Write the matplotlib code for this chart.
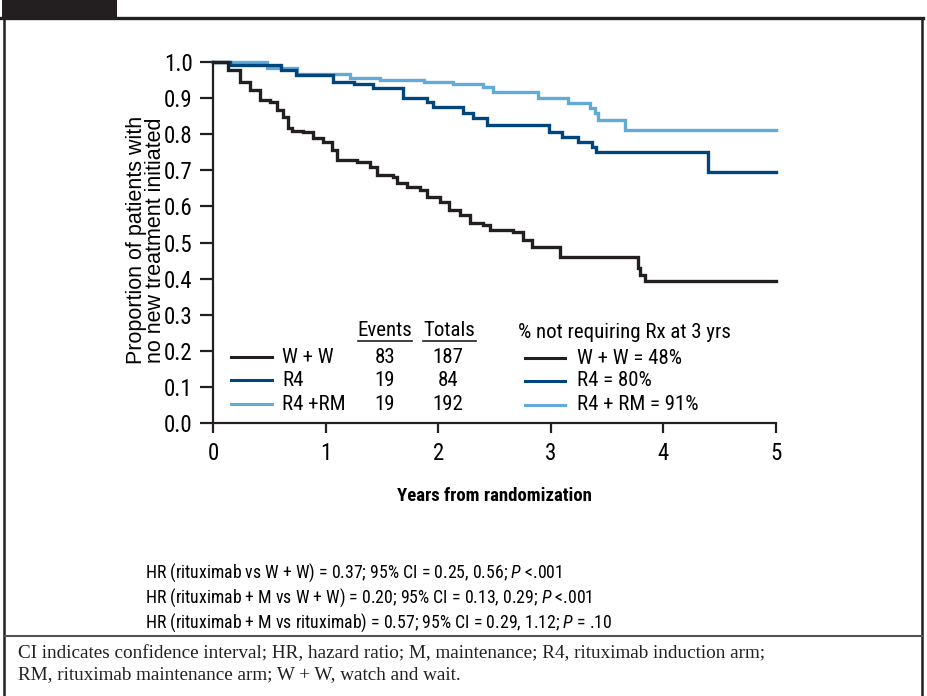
import matplotlib
matplotlib.use("Agg")
import matplotlib.pyplot as plt
from matplotlib import font_manager
from matplotlib.lines import Line2D
from matplotlib.patches import Rectangle

# pick a condensed sans if one is installed, else Liberation Sans
fam, stretch = 'Liberation Sans', 'normal'
found = [(f.name, f.stretch) for f in font_manager.fontManager.ttflist]
for name in ['Liberation Sans Narrow', 'Roboto Condensed', 'Open Sans Condensed',
             'Noto Sans Condensed', 'Noto Sans', 'DejaVu Sans', 'Roboto', 'Open Sans']:
    hits = [s for n, s in found if n == name]
    if name.endswith(('Narrow', 'Condensed')) and hits:
        fam = name
        break
    if any(s in ('condensed', 'semi-condensed', 'extra-condensed', 300, 400, 500) and s != 500 and s != 'normal'
           for s in hits):
        fam, stretch = name, 'condensed'
        break

plt.rcParams['font.family'] = [fam, 'DejaVu Sans']
plt.rcParams['font.stretch'] = stretch
plt.rcParams['mathtext.fontset'] = 'custom'
plt.rcParams['mathtext.it'] = fam + ':italic'
plt.rcParams['mathtext.rm'] = fam

INK = '#231f20'
colors = {'W + W': INK, 'R4': '#00457c', 'R4 + RM': '#62aad8'}

# Kaplan-Meier steps (years, proportion)
ww_t = [0, 0.13, 0.24, 0.33, 0.42, 0.51, 0.57, 0.62, 0.67, 0.70, 0.80, 0.89, 0.98,
        1.06, 1.10, 1.28, 1.39, 1.46, 1.60, 1.63, 1.72, 1.84, 1.90, 2.02, 2.10,
        2.19, 2.28, 2.40, 2.46, 2.66, 2.75, 2.83, 3.08, 3.77, 3.79, 3.84, 5.0]
ww_s = [1.0, 0.977, 0.945, 0.922, 0.895, 0.89, 0.867, 0.848, 0.817, 0.81, 0.806, 0.79, 0.778,
        0.756, 0.728, 0.723, 0.709, 0.687, 0.681, 0.665, 0.654, 0.645, 0.626, 0.612, 0.59,
        0.576, 0.554, 0.548, 0.535, 0.529, 0.507, 0.488, 0.46, 0.43, 0.41, 0.393, 0.393]

r4_t = [0, 0.15, 0.60, 0.74, 1.07, 1.25, 1.42, 1.69, 1.90, 1.95, 2.22, 2.31, 2.43,
        2.98, 3.10, 3.24, 3.37, 3.40, 4.40, 5.0]
r4_s = [1.0, 0.993, 0.977, 0.964, 0.945, 0.94, 0.928, 0.90, 0.889, 0.875, 0.858, 0.845, 0.825,
        0.806, 0.792, 0.778, 0.765, 0.75, 0.695, 0.695]

rm_t = [0, 0.48, 0.75, 1.22, 1.48, 1.87, 2.13, 2.40, 2.49, 2.89, 3.15, 3.35, 3.39,
        3.42, 3.66, 5.0]
rm_s = [1.0, 0.983, 0.967, 0.955, 0.95, 0.944, 0.94, 0.93, 0.917, 0.90, 0.886, 0.872, 0.858,
        0.838, 0.812, 0.812]

arms = ['W + W', 'R4', 'R4 + RM']
arm_labels = ['W + W', 'R4', 'R4 + RM']
events = [83, 19, 19]
totals = [187, 84, 192]
pct_3yr = [48, 80, 91]

hr_lines = [
    r'HR (rituximab vs W + W) = 0.37; 95% CI = 0.25, 0.56; $P$ <.001',
    r'HR (rituximab + M vs W + W) = 0.20; 95% CI = 0.13, 0.29; $P$ <.001',
    r'HR (rituximab + M vs rituximab) = 0.57; 95% CI = 0.29, 1.12; $P$ = .10',
]
caption = ['CI indicates confidence interval; HR, hazard ratio; M, maintenance; R4, rituximab induction arm;',
           'RM, rituximab maintenance arm; W + W, watch and wait.']

W, H = 927, 696
fig = plt.figure(figsize=(W / 100, H / 100), dpi=100)
cond = stretch == 'condensed' or fam.endswith(('Narrow', 'Condensed'))
k = 1.0 if cond else 0.88  # shrink wide fonts a bit


def fx(px):
    return px / W


def fy(py):
    return 1 - py / H


# frame decorations
fig.add_artist(Rectangle((fx(2), fy(18)), fx(115), 18 / H, color=INK, lw=0))
fig.add_artist(Line2D([0, fx(923)], [fy(18), fy(18)], color=INK, lw=2.4))
fig.add_artist(Line2D([fx(4), fx(4)], [0, fy(18)], color=INK, lw=1.8))
fig.add_artist(Line2D([fx(922), fx(922)], [0, fy(18)], color=INK, lw=1.8))
fig.add_artist(Line2D([fx(4), fx(922)], [fy(636), fy(636)], color='#555555', lw=1.5))

ax = fig.add_axes([fx(213), fy(423), (776 - 213) / W, (423 - 62) / H])
series = [(ww_t, ww_s), (r4_t, r4_s), (rm_t, rm_s)]
for (t, s), arm in zip(series[::-1], arms[::-1]):
    ax.step(t, s, where='post', color=colors[arm], lw=2.4, clip_on=False,
            solid_joinstyle='miter')

ax.set_xlim(0, 5)
ax.set_ylim(0, 1)
ax.set_xticks(range(6))
ax.set_yticks([i / 10 for i in range(11)])
ax.set_yticklabels([f'{i / 10:.1f}' for i in range(11)])
for side in ['top', 'right']:
    ax.spines[side].set_visible(False)
for side in ['left', 'bottom']:
    ax.spines[side].set_linewidth(1.6)
    ax.spines[side].set_color(INK)
ax.tick_params(axis='y', length=9.5, width=1.6, color=INK, labelsize=16.5 * k, pad=5)
ax.tick_params(axis='x', length=7.5, width=1.6, color=INK, labelsize=16.5 * k, pad=6)
ax.set_xlabel('Years from randomization', fontsize=13.5 * k, fontweight='bold', labelpad=16)

fig.text(fx(146), fy(240), 'Proportion of patients with\nno new treatment initiated',
         rotation=90, ha='center', va='center', fontsize=15.5, linespacing=0.92,
         family=['Liberation Sans', 'DejaVu Sans'], stretch='normal')

# left legend table
fs = 15 * k
fig.text(fx(385), fy(336), 'Events', ha='center', va='baseline', fontsize=fs)
fig.text(fx(449), fy(336), 'Totals', ha='center', va='baseline', fontsize=fs)
fig.add_artist(Line2D([fx(358), fx(412)], [fy(341), fy(341)], color=INK, lw=1.2))
fig.add_artist(Line2D([fx(423), fx(476)], [fy(341), fy(341)], color=INK, lw=1.2))
rows_y = [357, 380, 404]
for arm, lab, ev, tot, py in zip(arms, arm_labels, events, totals, rows_y):
    fig.add_artist(Line2D([fx(231), fx(272)], [fy(py), fy(py)], color=colors[arm], lw=2.2))
    fig.text(fx(282), fy(py), lab.replace('R4 + RM', 'R4 +RM'), ha='left', va='center', fontsize=fs)
    fig.text(fx(385), fy(py), str(ev), ha='center', va='center', fontsize=fs)
    fig.text(fx(448), fy(py), str(tot), ha='center', va='center', fontsize=fs)

# right legend
fig.text(fx(518), fy(333), '% not requiring Rx at 3 yrs', ha='left', va='center', fontsize=fs)
for arm, lab, pct, py in zip(arms, arm_labels, pct_3yr, [358, 381, 405]):
    fig.add_artist(Line2D([fx(525), fx(565)], [fy(py), fy(py)], color=colors[arm], lw=2.2))
    fig.text(fx(577), fy(py), f'{lab} = {pct}%', ha='left', va='center', fontsize=fs)

for line, py in zip(hr_lines, [573, 598, 623]):
    fig.text(fx(145), fy(py), line, ha='left', va='center', fontsize=12.8 * k)

for line, py in zip(caption, [654, 675]):
    fig.text(fx(18), fy(py), line, ha='left', va='center', fontsize=13.8,
             family=['Liberation Serif', 'DejaVu Serif'], color=INK)

fig.savefig('out.png', dpi=100)
